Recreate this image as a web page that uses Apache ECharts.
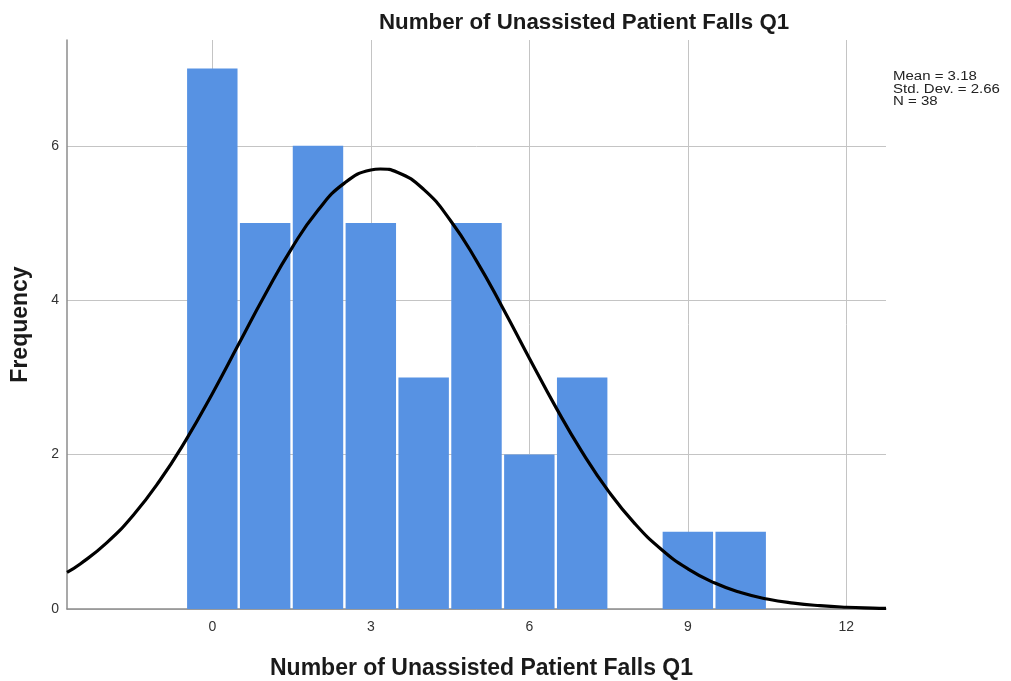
<!DOCTYPE html>
<html><head><meta charset="utf-8">
<script src="https://cdn.jsdelivr.net/npm/echarts@6/dist/echarts.min.js"></script>
<style>html,body{margin:0;padding:0;background:#fff}#c{width:1011px;height:681px}</style>
</head><body><div id="c"></div>
<script>
// Histogram bins (value = centre of bin, width 1)
const binCenters = [0, 1, 2, 3, 4, 5, 6, 7, 8, 9, 10];
const frequencies = [7, 5, 6, 5, 3, 5, 2, 3, 0, 1, 1];
// Normal curve
const curveX = [-2.75, -2.5, -2, -1.5, -1, -0.5, 0, 0.5, 1, 1.5, 2, 2.5, 3, 3.18, 3.5, 4, 4.5, 5, 5.5, 6, 6.5, 7, 7.5, 8, 8.5, 9, 9.5, 10, 10.5, 11, 11.5, 12, 12.5, 12.75];
const curveY = [0.475, 0.583, 0.856, 1.212, 1.658, 2.188, 2.789, 3.431, 4.074, 4.669, 5.165, 5.516, 5.686, 5.699, 5.658, 5.435, 5.039, 4.510, 3.896, 3.249, 2.615, 2.032, 1.524, 1.103, 0.771, 0.520, 0.339, 0.213, 0.129, 0.076, 0.043, 0.023, 0.012, 0.009];
const xTicks = [0, 3, 6, 9, 12];
const yTicks = [0, 2, 4, 6];
const statsLines = ['Mean = 3.18', 'Std. Dev. = 2.66', 'N = 38'];
const titleText = 'Number of Unassisted Patient Falls Q1';
const xName = 'Number of Unassisted Patient Falls Q1';
const yName = 'Frequency';

const chart = echarts.init(document.getElementById('c'), null, {renderer: 'canvas'});
const FONT = '"Liberation Sans", Arial, sans-serif';
const gridColor = '#c4c4c4';
const axisColor = '#8c8c8c';

chart.setOption({
  animation: false,
  backgroundColor: '#fff',
  title: {
    text: titleText, left: 374, top: 7,
    textStyle: {fontFamily: FONT, fontWeight: 'bold', fontSize: 22.3, color: '#1a1a1a'}
  },
  graphic: [{
    type: 'text', x: 893, y: 70, scaleX: 1.2,
    style: {text: statsLines.join('\n'), font: '12.5px ' + FONT, fill: '#222', lineHeight: 12.7}
  }],
  grid: {left: 67, right: 125, top: 40, bottom: 72, containLabel: false, outerBoundsMode: 'none'},
  xAxis: {
    type: 'value', min: -2.75, max: 12.75,
    name: xName, nameLocation: 'middle', nameGap: 48,
    nameTextStyle: {fontFamily: FONT, fontWeight: 'bold', fontSize: 23, color: '#1a1a1a', padding: [0, 0, 0, 10]},
    axisLine: {show: true, onZero: false, lineStyle: {color: axisColor, width: 1.5}},
    axisTick: {show: false, customValues: xTicks},
    axisLabel: {customValues: xTicks, fontFamily: FONT, fontSize: 14, color: '#333', margin: 11},
    splitLine: {show: true, lineStyle: {color: gridColor, width: 1}}
  },
  yAxis: {
    type: 'value', min: 0, max: 7.37,
    name: yName, nameLocation: 'middle', nameGap: 35, nameRotate: 90,
    nameTextStyle: {fontFamily: FONT, fontWeight: 'bold', fontSize: 23, color: '#1a1a1a'},
    axisLine: {show: true, onZero: false, lineStyle: {color: axisColor, width: 1.5}},
    axisTick: {show: false, customValues: yTicks},
    axisLabel: {customValues: yTicks, fontFamily: FONT, fontSize: 14, color: '#333', margin: 8},
    splitLine: {show: true, lineStyle: {color: gridColor, width: 1}}
  },
  series: [
    {
      type: 'custom',
      data: binCenters.map((c, i) => [c, frequencies[i]]),
      renderItem: function (params, api) {
        const c = api.value(0), v = api.value(1);
        if (!v) return null;
        const p0 = api.coord([c - 0.5, v]);
        const p1 = api.coord([c + 0.5, 0]);
        return {
          type: 'rect',
          shape: {x: p0[0] + 1.2, y: p0[1], width: p1[0] - p0[0] - 2.4, height: p1[1] - p0[1]},
          style: {fill: '#5792E3'}
        };
      },
      z: 2
    },
    {
      type: 'line',
      data: curveX.map((x, i) => [x, curveY[i]]),
      smooth: true, showSymbol: false,
      lineStyle: {color: '#000', width: 3.2},
      z: 3
    }
  ]
});
</script></body></html>
